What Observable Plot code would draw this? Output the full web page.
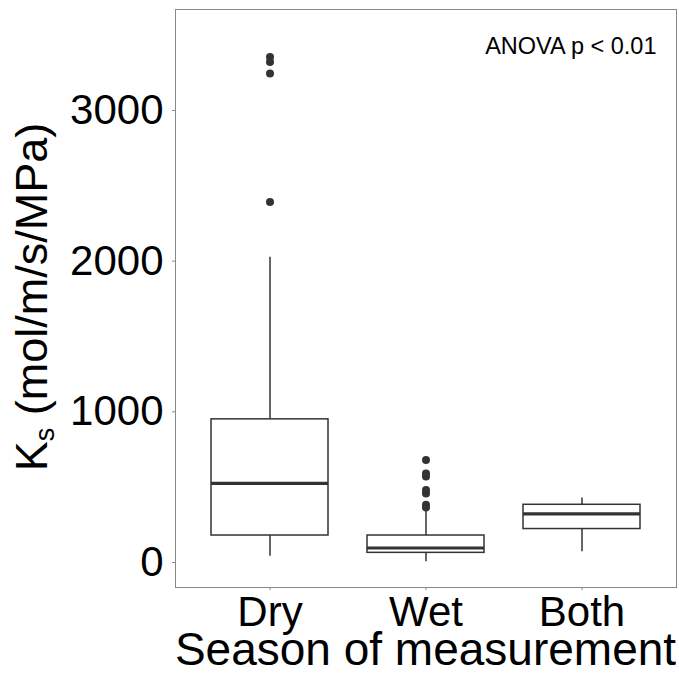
<!DOCTYPE html>
<html>
<head>
<meta charset="utf-8">
<script src="https://cdn.jsdelivr.net/npm/d3@7"></script>
<script src="https://cdn.jsdelivr.net/npm/@observablehq/plot@0.6"></script>
<style>
  html, body { margin: 0; padding: 0; background: #fff; }
  svg { display: block; }
</style>
</head>
<body>
<div id="chart"></div>
<script>
const categories = ["Dry", "Wet", "Both"];
const whiskerLow = [42, 5, 71];
const q1 = [179, 64, 222];
const median = [525, 96, 322];
const q3 = [950, 179, 383];
const whiskerHigh = [2025, 343, 428];
const outlierGroup = ["Dry", "Dry", "Dry", "Dry", "Wet", "Wet", "Wet", "Wet", "Wet", "Wet", "Wet"];
const outlierValue = [3355, 3322, 3245, 2392, 680, 591, 570, 481, 458, 383, 365];
const yTicks = [0, 1000, 2000, 3000];
const annotation = "ANOVA p < 0.01";
const xTitle = "Season of measurement";

const stats = categories.map((c, i) => ({
  cat: c, lo: whiskerLow[i], q1: q1[i], med: median[i], q3: q3[i], hi: whiskerHigh[i]
}));
const outliers = outlierGroup.map((g, i) => ({cat: g, v: outlierValue[i]}));

const font = "'Liberation Sans', Arial, sans-serif";
const W = 679, H = 677;

const plot = Plot.plot({
  width: W,
  height: H,
  marginLeft: 175,
  marginRight: 3,
  marginTop: 9,
  marginBottom: 90,
  style: {fontFamily: font, background: "#fff", color: "black"},
  x: {type: "band", domain: categories, paddingInner: 0.25, paddingOuter: 0.225, label: null},
  y: {domain: [-166, 3670], label: null},
  marks: [
    Plot.ruleX(stats, {x: "cat", y1: "lo", y2: "hi", stroke: "#333", strokeWidth: 1.5}),
    Plot.barY(stats, {x: "cat", y1: "q1", y2: "q3", fill: "white", stroke: "#333", strokeWidth: 1.5}),
    Plot.tickY(stats, {x: "cat", y: "med", stroke: "#333", strokeWidth: 3.2}),
    Plot.dot(outliers, {x: "cat", y: "v", r: 4, fill: "#333", stroke: "none"}),
    Plot.frame({stroke: "#888", strokeWidth: 1}),
    Plot.axisY({ticks: yTicks, tickFormat: d => String(d), tickSize: 3, tickPadding: 9, fontSize: 42, stroke: "#888", fill: "black", label: null}),
    Plot.axisX({tickSize: 3, tickPadding: 6, fontSize: 42, stroke: "#888", fill: "black", label: null}),
    Plot.text([annotation], {frameAnchor: "top-right", dx: -20, dy: 28, fontSize: 23.5, fill: "black", textAnchor: "end"})
  ]
});

const svg = d3.select(plot);
// x axis title
svg.append("text")
  .attr("x", (175 + 676) / 2)
  .attr("y", 665)
  .attr("text-anchor", "middle")
  .attr("font-family", font)
  .attr("font-size", 46)
  .attr("fill", "black")
  .text(xTitle);
// y axis title with subscript
const yt = svg.append("text")
  .attr("transform", "translate(47,297) rotate(-90)")
  .attr("text-anchor", "middle")
  .attr("font-family", font)
  .attr("font-size", 45)
  .attr("fill", "black");
yt.append("tspan").text("K");
yt.append("tspan").attr("font-size", 27).attr("dy", 7).text("s");
yt.append("tspan").attr("dy", -7).text(" (mol/m/s/MPa)");

document.getElementById("chart").appendChild(plot);
</script>
</body>
</html>
